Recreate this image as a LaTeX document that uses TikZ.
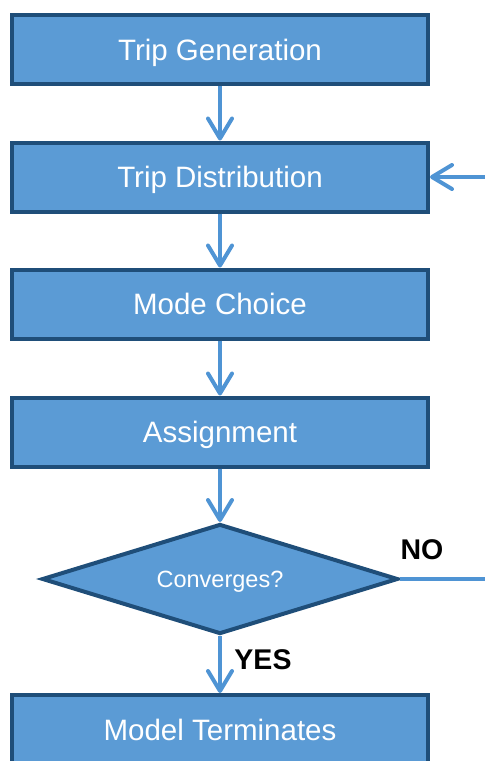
\documentclass[tikz,border=0pt]{standalone}
\usepackage{fontspec}
\setmainfont{Liberation Sans}
\usetikzlibrary{shapes.geometric,arrows.meta}
\definecolor{boxfill}{HTML}{5B9BD5}
\definecolor{boxline}{HTML}{1F4E79}
\definecolor{arrowc}{HTML}{4F94D4}
\begin{document}
\begin{tikzpicture}[x=1pt,y=-1pt,
  stepbox/.style={draw=boxline, fill=boxfill, line width=4pt, minimum width=416pt, minimum height=69pt, inner sep=0pt,
    text=white, font=\fontsize{29.5}{32}\selectfont, text height=21.1pt, text depth=0pt},
  decide/.style={diamond, aspect=3.2, draw=boxline, fill=boxfill, line width=4pt, minimum width=356pt, minimum height=110pt, inner sep=0pt,
    text=white, font=\fontsize{23.5}{26}\selectfont, text height=16.8pt, text depth=0pt},
  flow/.style={draw=arrowc, line width=4pt, -{Straight Barb[length=20pt,width=24pt,line cap=round,line join=round]}},
  plain/.style={draw=arrowc, line width=4pt},
  lbl/.style={font=\bfseries\fontsize{28.5}{30}\selectfont, text=black, inner sep=0pt, text height=20.4pt, text depth=0pt}
]
\useasboundingbox (0,0) rectangle (485,761);
\clip (0,0) rectangle (485,761);
\node[stepbox] (a1) at (220,49.5) {Trip Generation};
\node[stepbox] (a2) at (220,177) {Trip Distribution};
\node[stepbox] (a3) at (220,304) {Mode Choice};
\node[stepbox] (a4) at (220,432) {Assignment};
\node[decide] (d) at (220,579) {Converges?};
\node[stepbox] (a5) at (220,729.5) {Model Terminates};
\coordinate (rin) at (485,177);
\coordinate (rout) at (485,579);
\draw[flow] (a1.south) -- (a2.north);
\draw[flow] (a2.south) -- (a3.north);
\draw[flow] (a3.south) -- (a4.north);
\draw[flow] (a4.south) -- (d.north);
\draw[flow] (d.south) -- (a5.north);
\draw[flow] (rin) -- (a2.east);
\draw[plain] (d.east) -- (rout);
\node[lbl] (no) at (422,549) {NO};
\node[lbl] (yes) at (263,659) {YES};
\end{tikzpicture}
\end{document}
